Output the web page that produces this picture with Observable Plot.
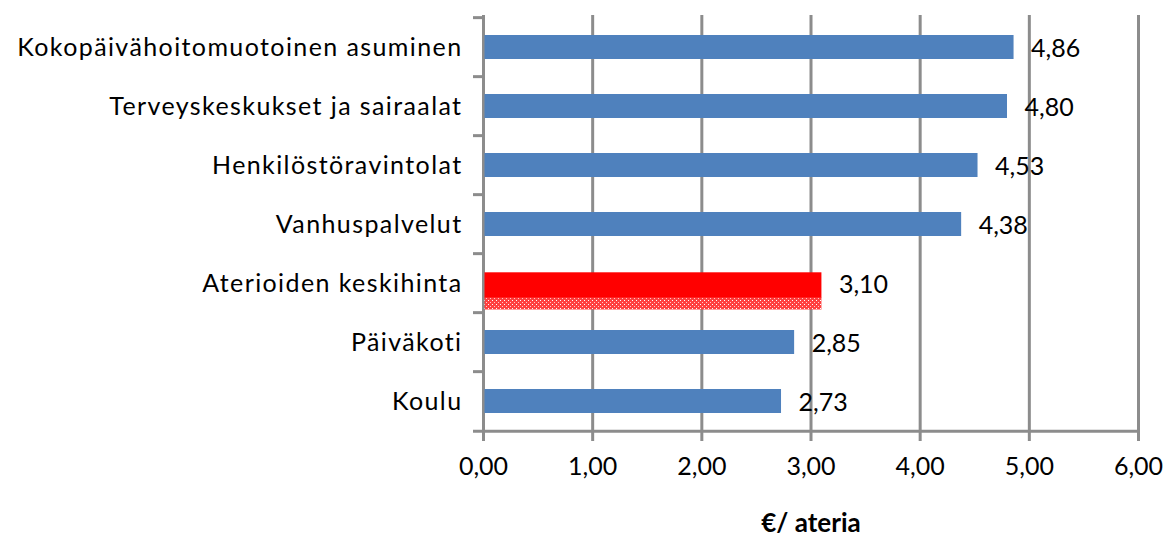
<!DOCTYPE html>
<html>
<head>
<meta charset="utf-8">
<script src="https://cdn.jsdelivr.net/npm/d3@7"></script>
<script src="https://cdn.jsdelivr.net/npm/@observablehq/plot@0.6"></script>
<style>
  html, body { margin: 0; padding: 0; background: #fff; }
  svg { font-family: Lato, "Open Sans", sans-serif; }
  .ylab text { letter-spacing: 1.4px; }
</style>
</head>
<body>
<div id="chart"></div>
<script>
const categories = [
  "Kokopäivähoitomuotoinen asuminen",
  "Terveyskeskukset ja sairaalat",
  "Henkilöstöravintolat",
  "Vanhuspalvelut",
  "Aterioiden keskihinta",
  "Päiväkoti",
  "Koulu"
];
const values = [4.86, 4.80, 4.53, 4.38, 3.10, 2.85, 2.73];
const highlight = "Aterioiden keskihinta";
const xTicks = [0, 1, 2, 3, 4, 5, 6];
const xLabel = "€/ ateria";

const data = categories.map((c, i) => ({category: c, value: values[i]}));
const fmt = v => v.toFixed(2).replace(".", ",");

const W = 1172, H = 547;
const mTop = 15, mBottom = 114, mLeft = 483, mRight = 34;
const step = (H - mTop - mBottom) / categories.length;
const pxPerUnit = (W - mLeft - mRight) / 6;
const tickLen = 10 / pxPerUnit;
const grid = "#8c8c8c";
const FS = 25;

const plot = Plot.plot({
  width: W,
  height: H,
  marginTop: mTop,
  marginBottom: mBottom,
  marginLeft: mLeft,
  marginRight: mRight,
  style: {fontSize: FS + "px", color: "#000", background: "#fff"},
  x: {domain: [0, 6], ticks: xTicks},
  y: {domain: categories, paddingInner: 0.6, paddingOuter: 0.3},
  marks: [
    Plot.ruleX(xTicks, {x: d => d, stroke: grid, strokeWidth: 3, insetBottom: -8}),
    Plot.ruleY(categories, {y: d => d, x1: -tickLen, x2: 0, stroke: grid, strokeWidth: 3, dy: -step / 2}),
    Plot.ruleY([categories[categories.length - 1]], {y: d => d, x1: -tickLen, x2: 6, stroke: grid, strokeWidth: 3, dy: step / 2}),
    Plot.barX(data.filter(d => d.category !== highlight), {x: "value", y: "category", fill: "#4f81bd", insetLeft: 1.5}),
    Plot.barX(data.filter(d => d.category === highlight), {x: "value", y: "category", fill: "url(#redpat)", insetLeft: 1.5, insetTop: 26, insetBottom: -14.5}),
    Plot.barX(data.filter(d => d.category === highlight), {x: "value", y: "category", fill: "#ff0000", insetLeft: 1.5, insetTop: 1.3, insetBottom: -2.5}),
    Plot.text(data, {x: "value", y: "category", text: d => fmt(d.value), textAnchor: "start", dx: 17, dy: 1, fontSize: FS, fill: "#000"}),
    Plot.axisY({tickSize: 0, tickPadding: 21, label: null, fontSize: FS, className: "ylab"}),
    Plot.axisX({ticks: xTicks, tickSize: 0, tickPadding: 24, tickFormat: fmt, label: null, fontSize: FS}),
    Plot.text([xLabel], {frameAnchor: "bottom", dy: 98, text: d => d, fontSize: 26, fontWeight: "bold", fill: "#000"})
  ]
});

const ns = "http://www.w3.org/2000/svg";
const defs = document.createElementNS(ns, "defs");
defs.innerHTML = `
<pattern id="redpat" width="4" height="4" patternUnits="userSpaceOnUse">
  <rect width="4" height="4" fill="#ff4040"/>
  <rect x="0" y="0" width="1" height="1" fill="#ffffff"/>
  <rect x="2" y="2" width="1" height="1" fill="#ffc8c8"/>
</pattern>`;
plot.insertBefore(defs, plot.firstChild);
document.getElementById("chart").appendChild(plot);
</script>
</body>
</html>
